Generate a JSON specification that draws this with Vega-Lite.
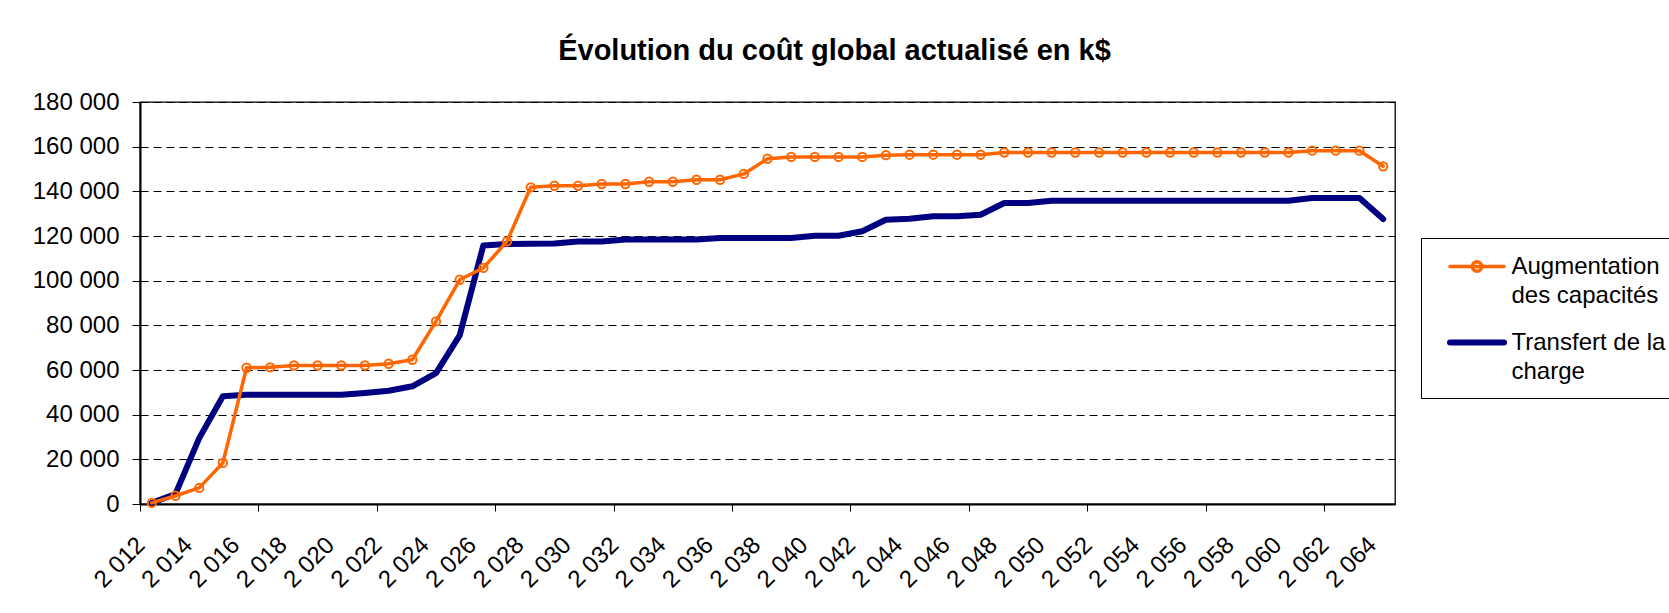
{
  "$schema": "https://vega.github.io/schema/vega-lite/v6.json",
  "autosize": {"type": "none"},
  "padding": {"left": 140, "top": 102, "right": 274, "bottom": 109},
  "width": 1255,
  "height": 402,
  "background": "white",
  "title": {
    "text": "Évolution du coût global actualisé en k$",
    "font": "Liberation Sans",
    "fontSize": 29,
    "fontWeight": "bold",
    "color": "black",
    "anchor": "middle",
    "dx": 67,
    "offset": 1,
    "baseline": "alphabetic"
  },
  "data": {
    "values": [
      {"annee": 2012, "serie": "Transfert de la charge", "cout": 500},
      {"annee": 2013, "serie": "Transfert de la charge", "cout": 4500},
      {"annee": 2014, "serie": "Transfert de la charge", "cout": 29500},
      {"annee": 2015, "serie": "Transfert de la charge", "cout": 48200},
      {"annee": 2016, "serie": "Transfert de la charge", "cout": 48900},
      {"annee": 2017, "serie": "Transfert de la charge", "cout": 48900},
      {"annee": 2018, "serie": "Transfert de la charge", "cout": 48900},
      {"annee": 2019, "serie": "Transfert de la charge", "cout": 48900},
      {"annee": 2020, "serie": "Transfert de la charge", "cout": 48900},
      {"annee": 2021, "serie": "Transfert de la charge", "cout": 49700},
      {"annee": 2022, "serie": "Transfert de la charge", "cout": 50700},
      {"annee": 2023, "serie": "Transfert de la charge", "cout": 52700},
      {"annee": 2024, "serie": "Transfert de la charge", "cout": 58600},
      {"annee": 2025, "serie": "Transfert de la charge", "cout": 75500},
      {"annee": 2026, "serie": "Transfert de la charge", "cout": 115800},
      {"annee": 2027, "serie": "Transfert de la charge", "cout": 116400},
      {"annee": 2028, "serie": "Transfert de la charge", "cout": 116500},
      {"annee": 2029, "serie": "Transfert de la charge", "cout": 116600},
      {"annee": 2030, "serie": "Transfert de la charge", "cout": 117500},
      {"annee": 2031, "serie": "Transfert de la charge", "cout": 117500},
      {"annee": 2032, "serie": "Transfert de la charge", "cout": 118400},
      {"annee": 2033, "serie": "Transfert de la charge", "cout": 118400},
      {"annee": 2034, "serie": "Transfert de la charge", "cout": 118400},
      {"annee": 2035, "serie": "Transfert de la charge", "cout": 118400},
      {"annee": 2036, "serie": "Transfert de la charge", "cout": 119100},
      {"annee": 2037, "serie": "Transfert de la charge", "cout": 119100},
      {"annee": 2038, "serie": "Transfert de la charge", "cout": 119100},
      {"annee": 2039, "serie": "Transfert de la charge", "cout": 119100},
      {"annee": 2040, "serie": "Transfert de la charge", "cout": 120100},
      {"annee": 2041, "serie": "Transfert de la charge", "cout": 120100},
      {"annee": 2042, "serie": "Transfert de la charge", "cout": 122100},
      {"annee": 2043, "serie": "Transfert de la charge", "cout": 127300},
      {"annee": 2044, "serie": "Transfert de la charge", "cout": 127700},
      {"annee": 2045, "serie": "Transfert de la charge", "cout": 128800},
      {"annee": 2046, "serie": "Transfert de la charge", "cout": 128800},
      {"annee": 2047, "serie": "Transfert de la charge", "cout": 129500},
      {"annee": 2048, "serie": "Transfert de la charge", "cout": 134800},
      {"annee": 2049, "serie": "Transfert de la charge", "cout": 134800},
      {"annee": 2050, "serie": "Transfert de la charge", "cout": 135800},
      {"annee": 2051, "serie": "Transfert de la charge", "cout": 135800},
      {"annee": 2052, "serie": "Transfert de la charge", "cout": 135800},
      {"annee": 2053, "serie": "Transfert de la charge", "cout": 135800},
      {"annee": 2054, "serie": "Transfert de la charge", "cout": 135800},
      {"annee": 2055, "serie": "Transfert de la charge", "cout": 135800},
      {"annee": 2056, "serie": "Transfert de la charge", "cout": 135800},
      {"annee": 2057, "serie": "Transfert de la charge", "cout": 135800},
      {"annee": 2058, "serie": "Transfert de la charge", "cout": 135800},
      {"annee": 2059, "serie": "Transfert de la charge", "cout": 135800},
      {"annee": 2060, "serie": "Transfert de la charge", "cout": 135800},
      {"annee": 2061, "serie": "Transfert de la charge", "cout": 137000},
      {"annee": 2062, "serie": "Transfert de la charge", "cout": 137000},
      {"annee": 2063, "serie": "Transfert de la charge", "cout": 137000},
      {"annee": 2064, "serie": "Transfert de la charge", "cout": 127600},
      {"annee": 2012, "serie": "Augmentation des capacités", "cout": 500},
      {"annee": 2013, "serie": "Augmentation des capacités", "cout": 3700},
      {"annee": 2014, "serie": "Augmentation des capacités", "cout": 7200},
      {"annee": 2015, "serie": "Augmentation des capacités", "cout": 18400},
      {"annee": 2016, "serie": "Augmentation des capacités", "cout": 61000},
      {"annee": 2017, "serie": "Augmentation des capacités", "cout": 61200},
      {"annee": 2018, "serie": "Augmentation des capacités", "cout": 62000},
      {"annee": 2019, "serie": "Augmentation des capacités", "cout": 62000},
      {"annee": 2020, "serie": "Augmentation des capacités", "cout": 62000},
      {"annee": 2021, "serie": "Augmentation des capacités", "cout": 62000},
      {"annee": 2022, "serie": "Augmentation des capacités", "cout": 62800},
      {"annee": 2023, "serie": "Augmentation des capacités", "cout": 64600},
      {"annee": 2024, "serie": "Augmentation des capacités", "cout": 81800},
      {"annee": 2025, "serie": "Augmentation des capacités", "cout": 100400},
      {"annee": 2026, "serie": "Augmentation des capacités", "cout": 105700},
      {"annee": 2027, "serie": "Augmentation des capacités", "cout": 117600},
      {"annee": 2028, "serie": "Augmentation des capacités", "cout": 141800},
      {"annee": 2029, "serie": "Augmentation des capacités", "cout": 142500},
      {"annee": 2030, "serie": "Augmentation des capacités", "cout": 142500},
      {"annee": 2031, "serie": "Augmentation des capacités", "cout": 143300},
      {"annee": 2032, "serie": "Augmentation des capacités", "cout": 143300},
      {"annee": 2033, "serie": "Augmentation des capacités", "cout": 144300},
      {"annee": 2034, "serie": "Augmentation des capacités", "cout": 144300},
      {"annee": 2035, "serie": "Augmentation des capacités", "cout": 145200},
      {"annee": 2036, "serie": "Augmentation des capacités", "cout": 145200},
      {"annee": 2037, "serie": "Augmentation des capacités", "cout": 147800},
      {"annee": 2038, "serie": "Augmentation des capacités", "cout": 154600},
      {"annee": 2039, "serie": "Augmentation des capacités", "cout": 155400},
      {"annee": 2040, "serie": "Augmentation des capacités", "cout": 155400},
      {"annee": 2041, "serie": "Augmentation des capacités", "cout": 155400},
      {"annee": 2042, "serie": "Augmentation des capacités", "cout": 155400},
      {"annee": 2043, "serie": "Augmentation des capacités", "cout": 156200},
      {"annee": 2044, "serie": "Augmentation des capacités", "cout": 156400},
      {"annee": 2045, "serie": "Augmentation des capacités", "cout": 156400},
      {"annee": 2046, "serie": "Augmentation des capacités", "cout": 156400},
      {"annee": 2047, "serie": "Augmentation des capacités", "cout": 156400},
      {"annee": 2048, "serie": "Augmentation des capacités", "cout": 157400},
      {"annee": 2049, "serie": "Augmentation des capacités", "cout": 157400},
      {"annee": 2050, "serie": "Augmentation des capacités", "cout": 157400},
      {"annee": 2051, "serie": "Augmentation des capacités", "cout": 157400},
      {"annee": 2052, "serie": "Augmentation des capacités", "cout": 157400},
      {"annee": 2053, "serie": "Augmentation des capacités", "cout": 157400},
      {"annee": 2054, "serie": "Augmentation des capacités", "cout": 157400},
      {"annee": 2055, "serie": "Augmentation des capacités", "cout": 157400},
      {"annee": 2056, "serie": "Augmentation des capacités", "cout": 157400},
      {"annee": 2057, "serie": "Augmentation des capacités", "cout": 157400},
      {"annee": 2058, "serie": "Augmentation des capacités", "cout": 157400},
      {"annee": 2059, "serie": "Augmentation des capacités", "cout": 157400},
      {"annee": 2060, "serie": "Augmentation des capacités", "cout": 157400},
      {"annee": 2061, "serie": "Augmentation des capacités", "cout": 158200},
      {"annee": 2062, "serie": "Augmentation des capacités", "cout": 158200},
      {"annee": 2063, "serie": "Augmentation des capacités", "cout": 158200},
      {"annee": 2064, "serie": "Augmentation des capacités", "cout": 151200}
    ]
  },
  "encoding": {
    "x": {
      "field": "annee",
      "type": "quantitative",
      "scale": {"domain": [2011.5, 2064.5], "nice": false, "zero": false},
      "axis": {
        "title": null,
        "values": [2011.5, 2012, 2014, 2016, 2016.5, 2018, 2020, 2021.5, 2022, 2024, 2026, 2026.5, 2028, 2030, 2031.5, 2032, 2034, 2036, 2036.5, 2038, 2040, 2041.5, 2042, 2044, 2046, 2046.5, 2048, 2050, 2051.5, 2052, 2054, 2056, 2056.5, 2058, 2060, 2061.5, 2062, 2064],
        "format": ",d",
        "labelExpr": "datum.value % 1 === 0 ? datum.label : ''",
        "labelAngle": -45,
        "labelAlign": "right",
        "labelBaseline": "middle",
        "labelFont": "Liberation Sans",
        "labelFontSize": 24,
        "labelColor": "black",
        "labelPadding": 30,
        "labelOffset": -11,
        "labelOverlap": false,
        "labelBound": false,
        "labelFlush": false,
        "tickSize": 7,
        "tickColor": "black",
        "tickWidth": 1,
        "tickOpacity": {"condition": {"test": "datum.value % 1 !== 0", "value": 1}, "value": 0},
        "domainColor": "black",
        "domainWidth": 2,
        "grid": false
      }
    },
    "y": {
      "field": "cout",
      "type": "quantitative",
      "scale": {"domain": [0, 180000], "nice": false},
      "axis": {
        "title": null,
        "values": [0, 20000, 40000, 60000, 80000, 100000, 120000, 140000, 160000, 180000],
        "format": ",d",
        "labelFont": "Liberation Sans",
        "labelFontSize": 24,
        "labelColor": "black",
        "labelPadding": 13,
        "labelFlush": false,
        "labelOverlap": false,
        "tickSize": 8,
        "tickColor": "black",
        "tickWidth": 1,
        "domainColor": "black",
        "domainWidth": 2,
        "grid": true,
        "gridColor": "black",
        "gridDash": [8, 5],
        "gridWidth": 1
      }
    }
  },
  "layer": [
    {
      "mark": {"type": "line", "strokeCap": "round", "strokeJoin": "round"},
      "encoding": {
        "color": {
          "field": "serie",
          "type": "nominal",
          "scale": {"domain": ["Augmentation des capacités", "Transfert de la charge"], "range": ["#FF6600", "#000080"]},
          "legend": {
            "title": null,
            "orient": "none",
            "legendX": 1281,
            "legendY": 136,
            "fillColor": "white",
            "strokeColor": "black",
            "padding": 13,
            "symbolSize": 729,
            "symbolOffset": 26.5,
            "labelOffset": 18,
            "labelFont": "Liberation Sans",
            "labelFontSize": 24,
            "labelColor": "black",
            "labelLimit": 500,
            "labelBaseline": "top",
            "rowPadding": 17,
            "labelExpr": "datum.label === 'Augmentation des capacités' ? ['Augmentation', 'des capacités'] : ['Transfert de la', 'charge']",
            "encode": {
              "symbols": {
                "update": {
                  "shape": {"signal": "datum.value === 'Augmentation des capacités' ? 'M-2,0H2M0.35,0A0.35,0.35,0,1,1,-0.35,0A0.35,0.35,0,1,1,0.35,0' : 'M-2,0H2'"},
                  "strokeWidth": {"signal": "datum.value === 'Augmentation des capacités' ? 3 : 6"},
                  "strokeCap": {"value": "round"},
                  "fill": {"value": "transparent"}
                }
              },
              "labels": {
                "update": {
                  "lineHeight": {"value": 29.7},
                  "dy": {"value": -12}
                }
              }
            }
          }
        },
        "strokeWidth": {
          "field": "serie",
          "type": "nominal",
          "scale": {"domain": ["Augmentation des capacités", "Transfert de la charge"], "range": [3.5, 6]},
          "legend": null
        }
      }
    },
    {
      "transform": [{"filter": "datum.serie === 'Augmentation des capacités'"}],
      "mark": {"type": "point", "filled": false, "stroke": "#FF6600", "strokeWidth": 2, "size": 70, "opacity": 1}
    }
  ],
  "config": {
    "view": {"stroke": "black", "strokeWidth": 1.3},
    "locale": {
      "number": {"decimal": ",", "thousands": " ", "grouping": [3], "currency": ["", " $"]}
    }
  }
}
